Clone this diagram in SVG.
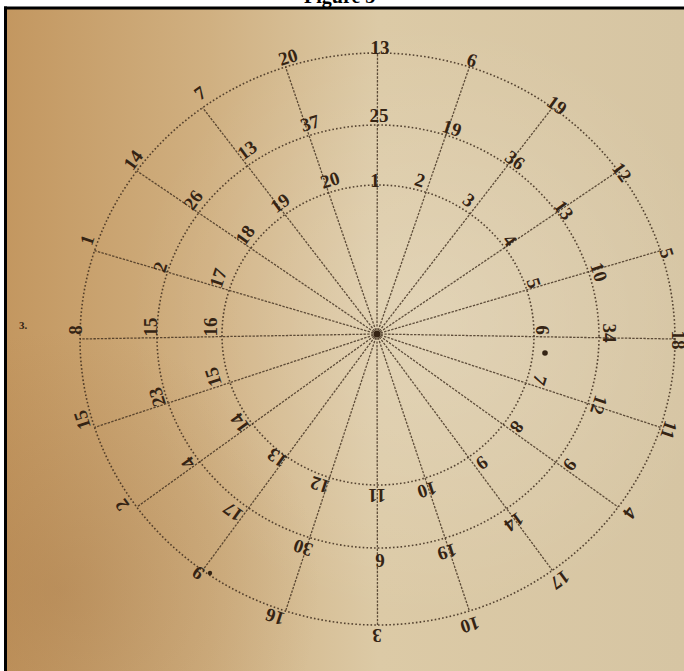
<svg xmlns="http://www.w3.org/2000/svg" width="684" height="671" viewBox="0 0 684 671">
<style>
.ring{fill:none;stroke:#3d2c1c;stroke-width:1.6;stroke-dasharray:1.6 2.2;opacity:.85}
.ray{fill:none;stroke:#3d2c1c;stroke-width:1.3;stroke-dasharray:2.4 1.3;opacity:.8}
.lbl{font-family:"Liberation Serif","Times New Roman",serif;font-size:19px;font-weight:bold;fill:#33231479;fill:#352414;text-anchor:middle;dominant-baseline:central}
.title{font-family:"Liberation Serif","Times New Roman",serif;font-size:20px;font-weight:bold;fill:#000}
</style>
<defs>
<linearGradient id="paper" x1="0" y1="0" x2="1" y2="0">
<stop offset="0" stop-color="#c39760"/>
<stop offset="0.3" stop-color="#d0b081"/>
<stop offset="0.55" stop-color="#dccaa6"/>
<stop offset="1" stop-color="#d6c5a3"/>
</linearGradient>
<radialGradient id="glow" cx="430" cy="320" r="300" gradientUnits="userSpaceOnUse">
<stop offset="0" stop-color="#fff" stop-opacity="0.18"/>
<stop offset="1" stop-color="#fff" stop-opacity="0"/>
</radialGradient>
<radialGradient id="stain" cx="60" cy="590" r="260" gradientUnits="userSpaceOnUse">
<stop offset="0" stop-color="#9c6c3c" stop-opacity="0.3"/>
<stop offset="1" stop-color="#9c6c3c" stop-opacity="0"/>
</radialGradient>
</defs>
<rect x="0" y="0" width="684" height="671" fill="#fff"/>
<g id="photo">
<rect x="6" y="8" width="678" height="663" fill="url(#paper)"/>
<rect x="6" y="8" width="678" height="663" fill="url(#glow)"/>
<rect x="6" y="8" width="678" height="663" fill="url(#stain)"/>
</g>
<text class="title" x="304" y="3">Figure 3</text>
<g id="frame" stroke="#000" stroke-width="3">
<line x1="5.5" y1="6.5" x2="5.5" y2="671"/>
<line x1="4" y1="8" x2="684" y2="8"/>
</g>
<text id="fig-num" x="23" y="325" style="font-family:'Liberation Serif',serif;font-size:11px;font-weight:bold;fill:#352414;text-anchor:middle;dominant-baseline:central">3.</text>
<g id="rings">
<ellipse class="ring" cx="378" cy="335" rx="156" ry="150"/>
<ellipse class="ring" cx="378" cy="336.5" rx="221" ry="211.5"/>
<ellipse class="ring" cx="377.5" cy="339" rx="297.5" ry="286"/>
</g>
<g id="connectors">
<line class="ray" x1="377" y1="334" x2="377.5" y2="53"/>
<line class="ray" x1="377" y1="334" x2="469.4" y2="67"/>
<line class="ray" x1="377" y1="334" x2="552.4" y2="107.6"/>
<line class="ray" x1="377" y1="334" x2="618.2" y2="170.9"/>
<line class="ray" x1="377" y1="334" x2="660.5" y2="250.6"/>
<line class="ray" x1="377" y1="334" x2="675" y2="339"/>
<line class="ray" x1="377" y1="334" x2="660.5" y2="427.4"/>
<line class="ray" x1="377" y1="334" x2="618.2" y2="507.1"/>
<line class="ray" x1="377" y1="334" x2="552.4" y2="570.4"/>
<line class="ray" x1="377" y1="334" x2="469.4" y2="611"/>
<line class="ray" x1="377" y1="334" x2="377.5" y2="625"/>
<line class="ray" x1="377" y1="334" x2="285.6" y2="611"/>
<line class="ray" x1="377" y1="334" x2="202.6" y2="570.4"/>
<line class="ray" x1="377" y1="334" x2="136.8" y2="507.1"/>
<line class="ray" x1="377" y1="334" x2="94.5" y2="427.4"/>
<line class="ray" x1="377" y1="334" x2="80" y2="339"/>
<line class="ray" x1="377" y1="334" x2="94.5" y2="250.6"/>
<line class="ray" x1="377" y1="334" x2="136.8" y2="170.9"/>
<line class="ray" x1="377" y1="334" x2="202.6" y2="107.6"/>
<line class="ray" x1="377" y1="334" x2="285.6" y2="67"/>
</g>
<circle id="hub" cx="377" cy="334" r="3.5" fill="#352414"/>
<g id="marks" fill="#352414">
<circle cx="545" cy="353" r="2.8"/>
<circle cx="210" cy="573" r="2.2"/>
</g>
<g id="ray-000">
<text class="lbl" transform="translate(380,47) rotate(0)">13</text>
<text class="lbl" transform="translate(379,115) rotate(0)">25</text>
<text class="lbl" transform="translate(375,180) rotate(0)">1</text>
</g>
<g id="ray-018">
<text class="lbl" transform="translate(472,60) rotate(18)">6</text>
<text class="lbl" transform="translate(452,128) rotate(18)">19</text>
<text class="lbl" transform="translate(420,180) rotate(18)">2</text>
</g>
<g id="ray-036">
<text class="lbl" transform="translate(557,105) rotate(36)">19</text>
<text class="lbl" transform="translate(515,160) rotate(36)">36</text>
<text class="lbl" transform="translate(469,200) rotate(36)">3</text>
</g>
<g id="ray-054">
<text class="lbl" transform="translate(622,172) rotate(54)">12</text>
<text class="lbl" transform="translate(564,210) rotate(54)">13</text>
<text class="lbl" transform="translate(510,240) rotate(54)">4</text>
</g>
<g id="ray-072">
<text class="lbl" transform="translate(667,253) rotate(72)">5</text>
<text class="lbl" transform="translate(599,272) rotate(72)">10</text>
<text class="lbl" transform="translate(534,283) rotate(72)">5</text>
</g>
<g id="ray-090">
<text class="lbl" transform="translate(678,340) rotate(90)">18</text>
<text class="lbl" transform="translate(609,333) rotate(90)">34</text>
<text class="lbl" transform="translate(542,330) rotate(90)">6</text>
</g>
<g id="ray-108">
<text class="lbl" transform="translate(669,430) rotate(108)">11</text>
<text class="lbl" transform="translate(599,405) rotate(108)">12</text>
<text class="lbl" transform="translate(540,380) rotate(108)">7</text>
</g>
<g id="ray-126">
<text class="lbl" transform="translate(630,513) rotate(126)">4</text>
<text class="lbl" transform="translate(570,465) rotate(126)">9</text>
<text class="lbl" transform="translate(517,427) rotate(126)">8</text>
</g>
<g id="ray-144">
<text class="lbl" transform="translate(560,580) rotate(144)">17</text>
<text class="lbl" transform="translate(514,522) rotate(144)">14</text>
<text class="lbl" transform="translate(482,463) rotate(144)">9</text>
</g>
<g id="ray-162">
<text class="lbl" transform="translate(470,625) rotate(162)">10</text>
<text class="lbl" transform="translate(447,552) rotate(162)">19</text>
<text class="lbl" transform="translate(427,490) rotate(162)">10</text>
</g>
<g id="ray-180">
<text class="lbl" transform="translate(377,635) rotate(180)">3</text>
<text class="lbl" transform="translate(380,560) rotate(180)">6</text>
<text class="lbl" transform="translate(377,495) rotate(180)">11</text>
</g>
<g id="ray-198">
<text class="lbl" transform="translate(275,617) rotate(198)">16</text>
<text class="lbl" transform="translate(303,548) rotate(198)">30</text>
<text class="lbl" transform="translate(320,485) rotate(198)">12</text>
</g>
<g id="ray-216">
<text class="lbl" transform="translate(198,573) rotate(216)">9</text>
<text class="lbl" transform="translate(233,512) rotate(216)">17</text>
<text class="lbl" transform="translate(277,458) rotate(216)">13</text>
</g>
<g id="ray-234">
<text class="lbl" transform="translate(122,505) rotate(234)">2</text>
<text class="lbl" transform="translate(188,463) rotate(234)">4</text>
<text class="lbl" transform="translate(240,423) rotate(234)">14</text>
</g>
<g id="ray-252">
<text class="lbl" transform="translate(82,420) rotate(252)">15</text>
<text class="lbl" transform="translate(157,397) rotate(252)">23</text>
<text class="lbl" transform="translate(213,377) rotate(252)">15</text>
</g>
<g id="ray-270">
<text class="lbl" transform="translate(75,330) rotate(270)">8</text>
<text class="lbl" transform="translate(150,327) rotate(270)">15</text>
<text class="lbl" transform="translate(210,327) rotate(270)">16</text>
</g>
<g id="ray-288">
<text class="lbl" transform="translate(87,240) rotate(288)">1</text>
<text class="lbl" transform="translate(160,267) rotate(288)">2</text>
<text class="lbl" transform="translate(218,278) rotate(288)">17</text>
</g>
<g id="ray-306">
<text class="lbl" transform="translate(133,160) rotate(306)">14</text>
<text class="lbl" transform="translate(193,200) rotate(306)">26</text>
<text class="lbl" transform="translate(245,235) rotate(306)">18</text>
</g>
<g id="ray-324">
<text class="lbl" transform="translate(200,93) rotate(324)">7</text>
<text class="lbl" transform="translate(247,150) rotate(324)">13</text>
<text class="lbl" transform="translate(280,203) rotate(324)">19</text>
</g>
<g id="ray-342">
<text class="lbl" transform="translate(288,57) rotate(342)">20</text>
<text class="lbl" transform="translate(310,123) rotate(342)">37</text>
<text class="lbl" transform="translate(330,180) rotate(342)">20</text>
</g>
</svg>
